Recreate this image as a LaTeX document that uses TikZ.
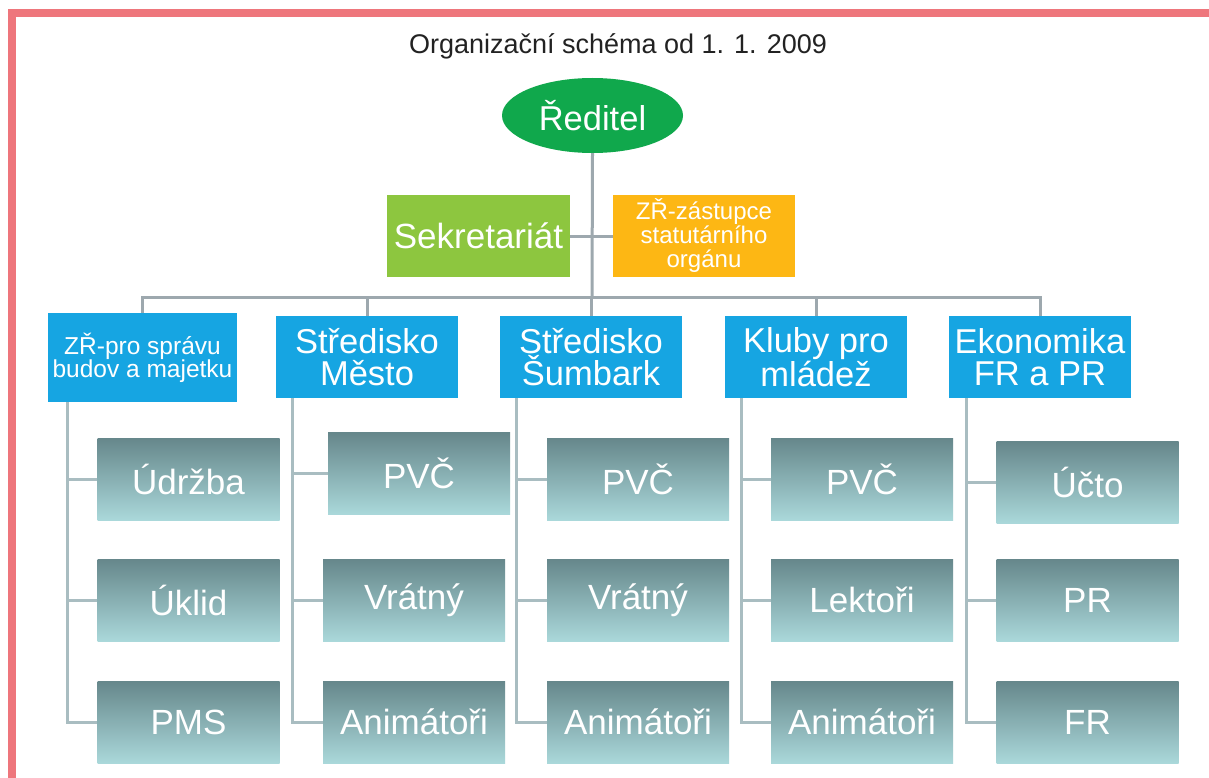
\documentclass[tikz,border=0pt]{standalone}
\usepackage{fontspec}
\setmainfont{Liberation Sans}
\usetikzlibrary{shapes.geometric}
\definecolor{pinkB}{HTML}{EE767C}
\definecolor{greenE}{HTML}{10A84C}
\definecolor{greenS}{HTML}{8DC63F}
\definecolor{orangeZ}{HTML}{FDB714}
\definecolor{blueL}{HTML}{16A5E2}
\definecolor{tealTop}{HTML}{66878B}
\definecolor{tealBot}{HTML}{AAD8DA}
\definecolor{lineA}{HTML}{9DA8AE}
\definecolor{lineB}{HTML}{A9BDC1}
\definecolor{titleC}{HTML}{222222}
\begin{document}
\begin{tikzpicture}[x=1pt,y=-1pt,
  topline/.style={draw=lineA, line width=3pt},
  subline/.style={draw=lineB, line width=3pt},
  lvltwo/.style={rectangle, fill=blueL, text=white, minimum width=182pt, minimum height=82pt,
    inner sep=0pt, align=center, font=\fontsize{34.5}{32}\selectfont},
  lvlthree/.style={rectangle, top color=tealTop, bottom color=tealBot, draw=none, text=white,
    minimum width=182pt, minimum height=82pt, inner sep=0pt, align=center,
    font=\fontsize{35}{35}\selectfont},
  smalltext/.style={font=\fontsize{24.5}{23}\selectfont}
]
\useasboundingbox (0,0) rectangle (1209,778);
\fill[white] (0,0) rectangle (1209,778);
% border
\fill[pinkB] (8,9) rectangle (1209,17);
\fill[pinkB] (8,9) rectangle (16,778);

% title
\node[text=titleC, font=\fontsize{27}{27}\selectfont] (title) at (618,46) {Organizační schéma od 1. 1. 2009};

% top level
\node[ellipse, fill=greenE, text=white, minimum width=181pt, minimum height=75pt, inner sep=0pt,
  font=\fontsize{34.5}{34}\selectfont] (dir) at (592.5,115.5) {Ředitel};
\node[rectangle, fill=greenS, text=white, minimum width=183pt, minimum height=82pt, inner sep=0pt,
  font=\fontsize{35}{35}\selectfont] (sek) at (478.5,236) {Sekretariát};
\node[rectangle, fill=orangeZ, text=white, minimum width=182pt, minimum height=82pt, inner sep=0pt,
  align=center, font=\fontsize{24}{24}\selectfont] (zast) at (704,236) {ZŘ-zástupce\\statutárního\\orgánu};

% level 2
\node[lvltwo, minimum width=189pt, minimum height=89pt, smalltext] (zr) at (142.5,357.5) {ZŘ-pro správu\\budov a majetku};
\node[lvltwo] (mesto) at (367,357) {Středisko\\Město};
\node[lvltwo] (sumb) at (591,357) {Středisko\\Šumbark};
\node[lvltwo] (kluby) at (816,357) {Kluby pro\\mládež};
\node[lvltwo] (eko) at (1040,357) {Ekonomika\\FR a PR};

% level 3
\node[lvlthree] (udr) at (188.5,479) {Údržba};
\node[lvlthree] (ukl) at (188.5,600) {Úklid};
\node[lvlthree] (pms) at (188.5,722) {PMS};

\node[lvlthree] (pvcm) at (419,473.5) {PVČ};
\node[lvlthree] (vratm) at (414,600) {Vrátný};
\node[lvlthree] (anim) at (414,722) {Animátoři};

\node[lvlthree] (pvcs) at (638,479) {PVČ};
\node[lvlthree] (vrats) at (638,600) {Vrátný};
\node[lvlthree] (anis) at (638,722) {Animátoři};

\node[lvlthree] (pvck) at (862,479) {PVČ};
\node[lvlthree] (lekt) at (862,600) {Lektoři};
\node[lvlthree] (anik) at (862,722) {Animátoři};

\node[lvlthree] (ucto) at (1087.5,482.5) {Účto};
\node[lvlthree] (pr) at (1087.5,600) {PR};
\node[lvlthree] (fr) at (1087.5,722) {FR};

% top connectors
\coordinate (bus) at (592,297);
\draw[topline] (dir.south) -- (bus);
\draw[topline] (sek.east) -- (zast.west);
\draw[topline] (zr.north) |- (bus) -| (eko.north);
\draw[topline] (mesto.north) -- (mesto.north |- bus);
\draw[topline] (sumb.north) -- (sumb.north |- bus);
\draw[topline] (kluby.north) -- (kluby.north |- bus);

% column connectors
\draw[subline] ([xshift=20pt]zr.south west) coordinate (v1) |- (pms.west);
\draw[subline] (v1 |- udr.west) -- (udr.west);
\draw[subline] (v1 |- ukl.west) -- (ukl.west);

\draw[subline] ([xshift=17pt]mesto.south west) coordinate (v2) |- (anim.west);
\draw[subline] (v2 |- pvcm.west) -- (pvcm.west);
\draw[subline] (v2 |- vratm.west) -- (vratm.west);

\draw[subline] ([xshift=17pt]sumb.south west) coordinate (v3) |- (anis.west);
\draw[subline] (v3 |- pvcs.west) -- (pvcs.west);
\draw[subline] (v3 |- vrats.west) -- (vrats.west);

\draw[subline] ([xshift=17pt]kluby.south west) coordinate (v4) |- (anik.west);
\draw[subline] (v4 |- pvck.west) -- (pvck.west);
\draw[subline] (v4 |- lekt.west) -- (lekt.west);

\draw[subline] ([xshift=18pt]eko.south west) coordinate (v5) |- (fr.west);
\draw[subline] (v5 |- ucto.west) -- (ucto.west);
\draw[subline] (v5 |- pr.west) -- (pr.west);
\end{tikzpicture}
\end{document}
